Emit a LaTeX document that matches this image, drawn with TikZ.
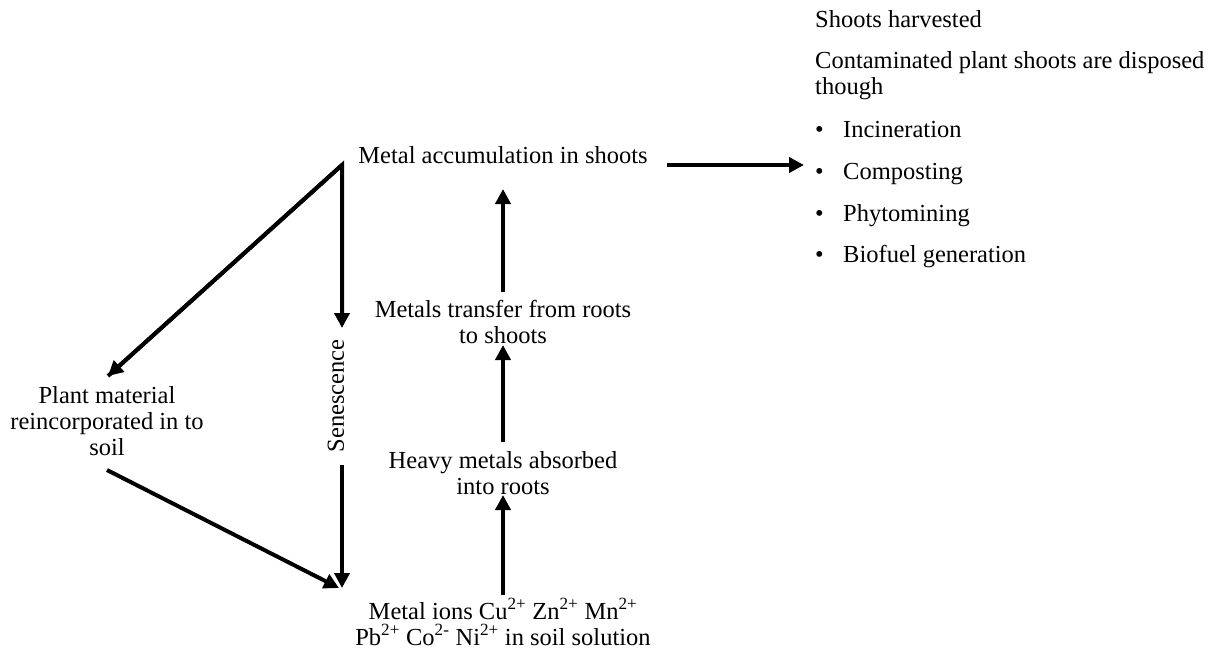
\documentclass[tikz,border=0pt]{standalone}
\usepackage{fontspec}
\setmainfont{Liberation Serif}
\usetikzlibrary{arrows.meta}
\begin{document}
\begin{tikzpicture}[x=1pt,y=-1pt,
  lbl/.style={font=\fontsize{24.5}{26}\selectfont, inner sep=0pt, align=center, anchor=base},
  lftlbl/.style={font=\fontsize{24.5}{26}\selectfont, inner sep=0pt, align=left, anchor=base west},
  arr/.style={line width=4pt, -{Triangle[length=15pt,width=15pt]}},
  ln/.style={line width=4pt, line cap=butt}]
\useasboundingbox (0,0) rectangle (1222,654);
% right-hand text (base anchor = last line's baseline)
\node[lftlbl] (harv) at (815,27) {Shoots harvested};
\node[lftlbl] (cont) at (815,94) {Contaminated plant shoots are disposed\\though};
\node[lftlbl] (b1) at (815,137) {\makebox[28pt][l]{•}Incineration};
\node[lftlbl] (b2) at (815,179) {\makebox[28pt][l]{•}Composting};
\node[lftlbl] (b3) at (815,221) {\makebox[28pt][l]{•}Phytomining};
\node[lftlbl] (b4) at (815,262) {\makebox[28pt][l]{•}Biofuel generation};
% centre column
\node[lbl] (acc) at (503,163) {Metal accumulation in shoots};
\node[lbl] (trans) at (503,343) {Metals transfer from roots\\to shoots};
\node[lbl] (heavy) at (503,494) {Heavy metals absorbed\\into roots};
\node[lbl] (ions) at (503,645) {Metal ions Cu\textsuperscript{2+} Zn\textsuperscript{2+} Mn\textsuperscript{2+}\\Pb\textsuperscript{2+} Co\textsuperscript{2-} Ni\textsuperscript{2+} in soil solution};
% left
\node[lbl] (plant) at (107,455) {Plant material\\reincorporated in to\\soil};
\node[inner sep=0pt, rotate=90, font=\fontsize{24.5}{26}\selectfont] (sen) at (336,396) {Senescence};
% coordinates
\coordinate (accR) at (667,165);
\coordinate (listL) at (804,165);
\coordinate (top) at (342,165);
\coordinate (senTop) at (342,328);
\coordinate (senBot) at (342,465);
\coordinate (soilIn) at (342,588);
\coordinate (plantTop) at (108,376);
\coordinate (plantBot) at (107,470);
\coordinate (soilIn2) at (339,588);
\coordinate (a1s) at (503,292);
\coordinate (a1e) at (503,189);
\coordinate (a2s) at (503,442);
\coordinate (a2e) at (503,345);
\coordinate (a3s) at (503,595);
\coordinate (a3e) at (503,495);
% arrows
\draw[arr] (accR) -- (listL);
\draw[arr] (a1s) -- (a1e);
\draw[arr] (a2s) -- (a2e);
\draw[arr] (a3s) -- (a3e);
\draw[arr, line join=miter] (plantTop) -- (top) -- (senTop);
\draw[arr] (top) -- (plantTop);
\draw[arr] (senBot) -- (soilIn);
\draw[arr] (plantBot) -- (soilIn2);
\end{tikzpicture}
\end{document}
